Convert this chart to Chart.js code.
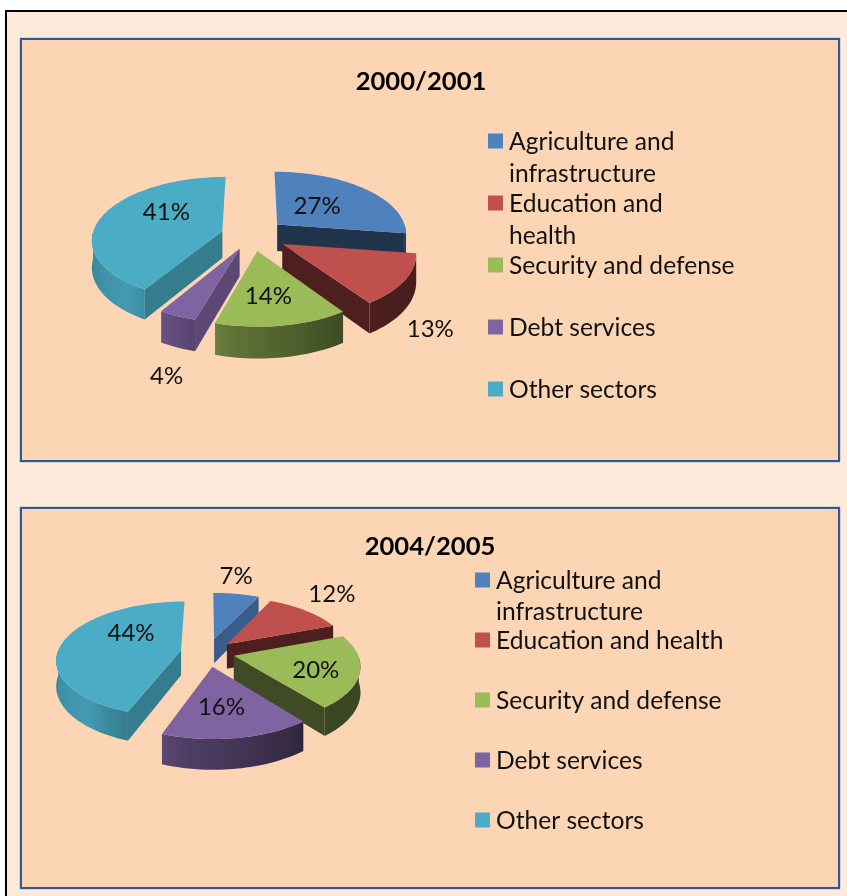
<!DOCTYPE html>
<html>
<head>
<meta charset="utf-8">
<script src="https://cdn.jsdelivr.net/npm/chart.js@4"></script>
<style>
html,body{margin:0;padding:0;background:#fff;overflow:hidden;width:847px;height:896px}
#frame{position:absolute;left:5px;top:10px;width:850px;height:900px;border:2px solid #000;background:#fdeada}
.panel{position:absolute;left:20px;width:816px;border:2px solid #2f5b93;background:#fcd5b5;box-sizing:content-box;box-shadow:0 0 1px #2f5b93}
canvas{position:absolute;left:20px}
</style>
</head>
<body>
<div id="frame"></div>
<div class="panel" style="top:38px;height:420px"></div>
<div class="panel" style="top:507px;height:378px"></div>
<canvas id="c1" width="802" height="423" style="top:38px"></canvas>
<canvas id="c2" width="820" height="380" style="top:507px"></canvas>
<script>
const categories1 = [["Agriculture and","infrastructure"],["Education and","health"],["Security and defense"],["Debt services"],["Other sectors"]];
const categories2 = [["Agriculture and","infrastructure"],["Education and health"],["Security and defense"],["Debt services"],["Other sectors"]];
const values1 = [27,13,14,4,41];
const values2 = [7,12,20,16,44];
const sliceColors = ["#4f81bd","#c0504d","#9bbb59","#8064a2","#4bacc6"];
const title1 = "2000/2001";
const title2 = "2004/2005";

const FONT = "Lato, Carlito, sans-serif";

function shade(hex,f){
  const n=parseInt(hex.slice(1),16);
  return "rgb("+Math.round((n>>16&255)*f)+","+Math.round((n>>8&255)*f)+","+Math.round((n&255)*f)+")";
}
// brightness of the outer wall by the direction it faces (radians, canvas convention)
function wallShade(t){
  const d=((t*180/Math.PI)%360+360)%360;
  if(d>=180) return 0.75;
  if(d>=130) return 0.75+(180-d)/50*0.15;
  if(d>=100) return 0.62+(d-100)/30*0.28;
  if(d>=55) return 0.40+(d-55)/45*0.22;
  return 0.38;
}

const pie3d = {
  id:"pie3d",
  beforeDatasetDraw(chart,args,opts){
    const ctx=chart.ctx, arcs=args.meta.data, colors=chart.data.datasets[0].backgroundColor;
    const {cx,cy,R,ky,p,depth,explode}=opts;
    const proj=(u,v,h)=>{const s=1/(1-p*v/R);return [cx+u*s,cy+(ky*v+(h||0))*s];};
    const order=arcs.map((a,i)=>i).sort((i,j)=>
      Math.sin((arcs[i].startAngle+arcs[i].endAngle)/2)-Math.sin((arcs[j].startAngle+arcs[j].endAngle)/2));
    const poly=(pts,fill)=>{
      ctx.beginPath();pts.forEach((q,k)=>k?ctx.lineTo(q[0],q[1]):ctx.moveTo(q[0],q[1]));ctx.closePath();
      ctx.fillStyle=fill;ctx.fill();
    };
    ctx.save();
    order.forEach(i=>{
      const a=arcs[i],sa=a.startAngle,ea=a.endAngle,mid=(sa+ea)/2,col=colors[i];
      const ox=explode[i]*Math.cos(mid),oy=explode[i]*Math.sin(mid);
      const at=(t,h)=>proj(ox+R*Math.cos(t),oy+R*Math.sin(t),h);
      const apex=h=>proj(ox,oy,h);
      // cut faces
      [[sa,sa-Math.PI/2],[ea,ea+Math.PI/2]].forEach(([t,n])=>{
        if(Math.sin(n)>0){
          const f=Math.cos(n)>0.5?0.72:0.4;
          poly([apex(0),at(t,0),at(t,depth),apex(depth)],shade(col,f));
        }
      });
      // outer wall, one polygon shaded with a horizontal gradient
      const steps=Math.max(4,Math.ceil((ea-sa)/0.03));
      const vis=[];
      for(let k=0;k<=steps;k++){const t=sa+(ea-sa)*k/steps;if(Math.sin(t)>-0.01)vis.push(t);}
      if(vis.length>1){
        const xs=vis.map(t=>at(t,0)[0]),x0=Math.min(...xs),x1=Math.max(...xs);
        const g=ctx.createLinearGradient(x0,0,x1,0);
        vis.forEach((t,k)=>g.addColorStop(Math.min(1,Math.max(0,(xs[k]-x0)/(x1-x0||1))),shade(col,wallShade(t))));
        poly(vis.map(t=>at(t,0)).concat(vis.slice().reverse().map(t=>at(t,depth))),g);
      }
      // top face
      const top=[apex(0)];
      for(let k=0;k<=steps;k++) top.push(at(sa+(ea-sa)*k/steps,0));
      poly(top,col);
    });
    // value labels
    ctx.fillStyle="#111";ctx.font=opts.labelFont;ctx.textAlign="center";ctx.textBaseline="middle";
    arcs.forEach((a,i)=>{
      const mid=(a.startAngle+a.endAngle)/2;
      const q=proj(explode[i]*Math.cos(mid),explode[i]*Math.sin(mid),0);
      ctx.fillText(chart.data.datasets[0].data[i]+"%",q[0]+opts.labelOffsets[i][0],q[1]+opts.labelOffsets[i][1]);
    });
    ctx.restore();
    return false;
  },
  afterDraw(chart,args,opts){
    const ctx=chart.ctx,L=opts.legend;
    ctx.save();
    ctx.font=L.font;ctx.textAlign="left";ctx.textBaseline="middle";
    chart.data.labels.forEach((lines,i)=>{
      const y=L.y+i*L.rowGap;
      ctx.fillStyle=chart.data.datasets[0].backgroundColor[i];
      ctx.fillRect(L.x,y-L.box/2,L.box,L.box);
      ctx.fillStyle="#111";
      lines.forEach((s,k)=>ctx.fillText(s,L.x+L.box+L.gap,y+1+k*L.lineGap));
    });
    ctx.restore();
  }
};

function makePie(id,labels,data,title,titlePad,cfg){
  return new Chart(document.getElementById(id),{
    type:"pie",
    data:{labels:labels,datasets:[{data:data,backgroundColor:sliceColors,borderWidth:0}]},
    options:{
      responsive:false,animation:false,
      events:[],
      plugins:{
        legend:{display:false},
        tooltip:{enabled:false},
        title:{display:true,text:title,color:"#000",font:{family:FONT,size:25.6,weight:"bold"},padding:{top:titlePad,bottom:0}},
        pie3d:cfg
      }
    },
    plugins:[pie3d]
  });
}

makePie("c1",categories1,values1,title1,28,{
  cx:232,cy:197,R:130,ky:0.476,p:0.124,depth:27,
  explode:[34,35,33,30,31],
  labelOffsets:[[40,-18],[148,85],[11,45],[-73,128],[-56,-19]],
  labelFont:"24px "+FONT,
  legend:{x:468,y:103,rowGap:62,lineGap:32,box:15,gap:6,font:"24.6px "+FONT}
});
makePie("c2",categories2,values2,title2,24,{
  cx:187.5,cy:145.5,R:123.5,ky:0.46,p:0.15,depth:25,
  explode:[31,27,27,30,27],
  labelOffsets:[[22,-63],[105,-50],[82,14],[9,41],[-50,-17]],
  labelFont:"24px "+FONT,
  legend:{x:455,y:73,rowGap:60,lineGap:31,box:15,gap:6,font:"24.6px "+FONT}
});
</script>
</body>
</html>
